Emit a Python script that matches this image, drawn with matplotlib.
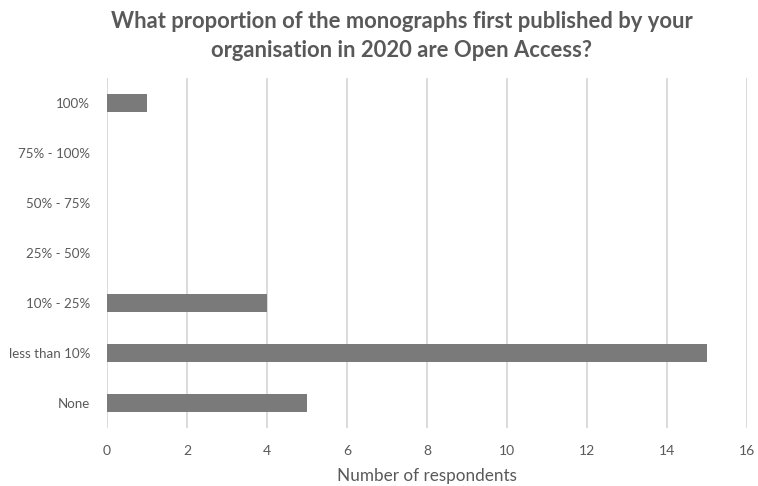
import matplotlib.pyplot as plt

categories = ["None", "less than 10%", "10% - 25%", "25% - 50%", "50% - 75%", "75% - 100%", "100%"]
respondents = [5, 15, 4, 0, 0, 0, 1]
x_ticks = [0, 2, 4, 6, 8, 10, 12, 14, 16]

plt.rcParams["font.family"] = ["Lato", "DejaVu Sans"]
grey_text = "#595959"

fig = plt.figure(figsize=(7.58, 4.86), dpi=100)
ax = fig.add_axes([0.1412, 0.1193, 0.8443, 0.7202])

ax.barh(range(len(categories)), respondents, height=0.35, color="#7a7a7a",
        linewidth=0, zorder=3)
ax.set_xlim(0, 16)
ax.set_ylim(-0.5, len(categories) - 0.5)
ax.set_xticks(x_ticks)
ax.set_yticks(range(len(categories)))
ax.set_yticklabels(categories)
ax.xaxis.grid(True, color="#d4d4d4", linewidth=1.2, zorder=0)
for s in ax.spines.values():
    s.set_visible(False)
ax.tick_params(axis="both", length=0, colors=grey_text, labelsize=10)
ax.tick_params(axis="y", labelsize=9.6)
ax.tick_params(axis="x", pad=12)
ax.tick_params(axis="y", pad=12)
ax.set_xlabel("Number of respondents", fontsize=12.3, color=grey_text, labelpad=8)

fig.text(0.53, 0.978, "What proportion of the monographs first published by your\norganisation in 2020 are Open Access?",
         ha="center", va="top", fontsize=15.8, fontweight="bold", color=grey_text, linespacing=1.5)

fig.savefig("out.png", dpi=100)
